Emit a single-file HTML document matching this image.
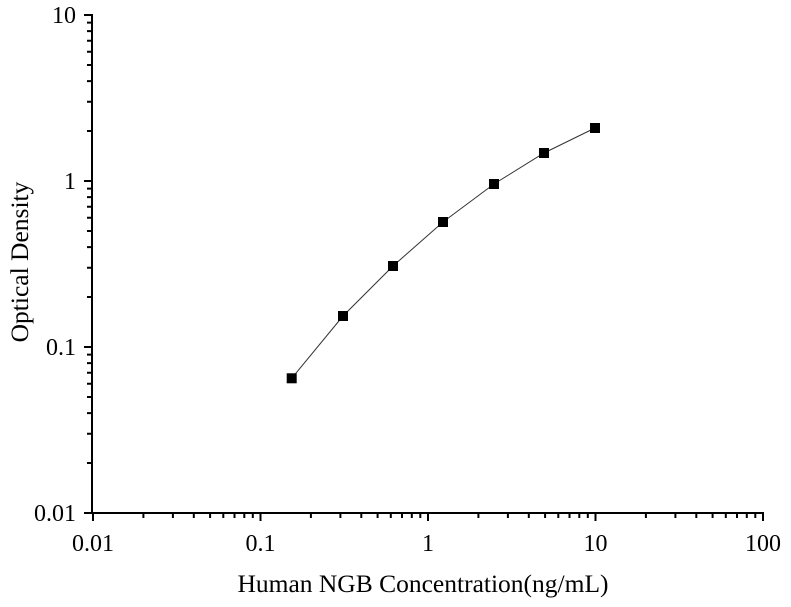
<!DOCTYPE html>
<html><head><meta charset="utf-8"><style>
html,body{margin:0;padding:0;background:#fff;}
svg{display:block;font-family:"Liberation Serif",serif;}
</style></head><body>
<svg width="791" height="607" viewBox="0 0 791 607" xmlns="http://www.w3.org/2000/svg">
<g stroke="#000" stroke-width="2" fill="none">
<path d="M92 14V514M91 513H764"/>
<path d="M93 513v8M260.5 513v8M428 513v8M595.5 513v8M763 513v8M92 513h-8M92 347h-8M92 181h-8M92 15h-8"/>
<path d="M143.4 513v5M172.9 513v5M193.8 513v5M210.1 513v5M223.3 513v5M234.5 513v5M244.3 513v5M252.8 513v5
M310.9 513v5M340.4 513v5M361.3 513v5M377.6 513v5M390.8 513v5M402 513v5M411.8 513v5M420.3 513v5
M478.4 513v5M507.9 513v5M528.8 513v5M545.1 513v5M558.3 513v5M569.5 513v5M579.3 513v5M587.8 513v5
M645.9 513v5M675.4 513v5M696.3 513v5M712.6 513v5M725.8 513v5M737 513v5M746.8 513v5M755.3 513v5
M92 463h-5M92 433.8h-5M92 413.1h-5M92 397h-5M92 383.8h-5M92 372.7h-5M92 363.1h-5M92 354.6h-5
M92 297h-5M92 267.8h-5M92 247.1h-5M92 231h-5M92 217.8h-5M92 206.7h-5M92 197.1h-5M92 188.6h-5
M92 131h-5M92 101.8h-5M92 81.1h-5M92 65h-5M92 51.8h-5M92 40.7h-5M92 31.1h-5M92 22.6h-5"/>
</g>
<polyline points="291.7,378.3 343,316 393,266 443,222 494,184 544,153 595,128" fill="none" stroke="#333" stroke-width="1"/>
<g fill="#000">
<rect x="286.7" y="373.3" width="10" height="10"/><rect x="338" y="311" width="10" height="10"/>
<rect x="388" y="261" width="10" height="10"/><rect x="438" y="217" width="10" height="10"/>
<rect x="489" y="179" width="10" height="10"/><rect x="539" y="148" width="10" height="10"/>
<rect x="590" y="123" width="10" height="10"/>
</g>
<g font-size="24" fill="#000" text-anchor="end">
<text x="76" y="23">10</text><text x="76" y="189">1</text><text x="76" y="355">0.1</text><text x="76" y="521">0.01</text>
</g>
<g font-size="24" fill="#000" text-anchor="middle">
<text x="93" y="551">0.01</text><text x="260.5" y="551">0.1</text><text x="428" y="551">1</text><text x="595.5" y="551">10</text><text x="763" y="551">100</text>
</g>
<g font-size="25.5" fill="#000" text-anchor="middle">
<text x="423" y="592">Human NGB Concentration(ng/mL)</text>
<text transform="translate(20,262) rotate(-90)" y="8">Optical Density</text>
</g>
</svg>
</body></html>
